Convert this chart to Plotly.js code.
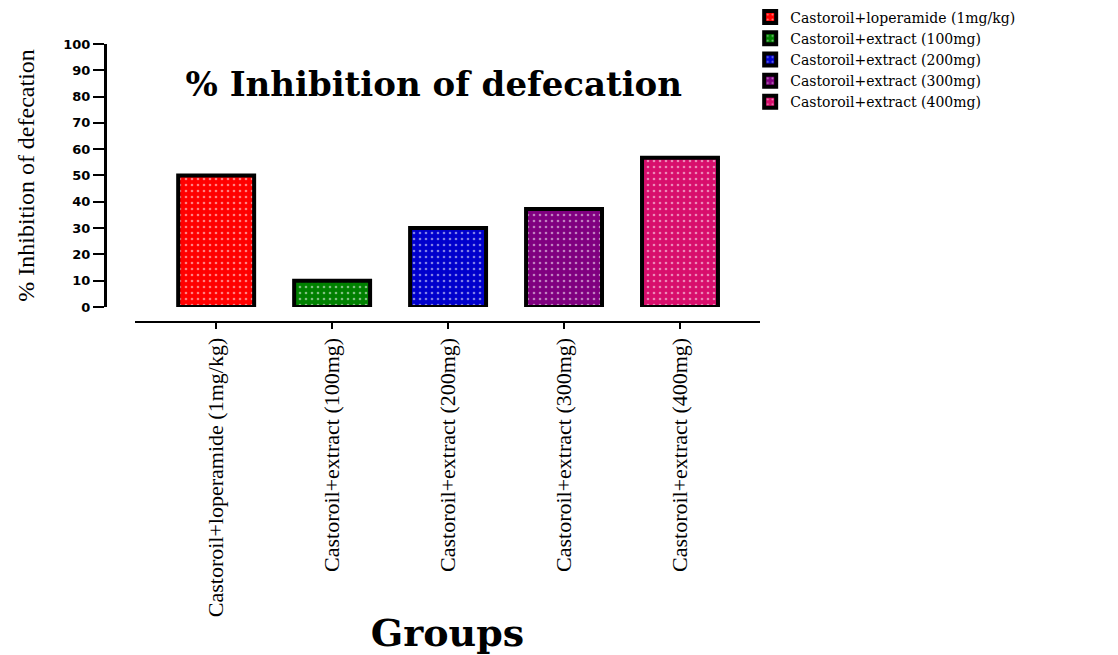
<!DOCTYPE html>
<html>
<head>
<meta charset="utf-8">
<script src="https://cdn.plot.ly/plotly-3.0.1.min.js"></script>
<style>html,body{margin:0;padding:0;background:#fff;}#chart{width:1118px;height:655px;}</style>
</head>
<body>
<div id="chart"></div>
<script>
const groups = [
  "Castoroil+loperamide (1mg/kg)",
  "Castoroil+extract (100mg)",
  "Castoroil+extract (200mg)",
  "Castoroil+extract (300mg)",
  "Castoroil+extract (400mg)"
];
const inhibition = [50.0, 10.0, 30.0, 37.3, 56.7];
const barColors = ["#ff0000", "#008000", "#0000cc", "#800080", "#d80e6c"];
const yTicks = [0, 10, 20, 30, 40, 50, 60, 70, 80, 90, 100];

const traces = groups.map((g, i) => ({
  type: "bar",
  name: g,
  x: [g],
  y: [inhibition[i]],
  marker: {
    color: barColors[i],
    line: {color: "#000000", width: 4},
    pattern: {shape: ".", fgcolor: "#ffffff", bgcolor: barColors[i], size: 6, solidity: 0.15, fillmode: "overlay"}
  },
  hoverinfo: "x+y"
}));

const layout = {
  width: 1118,
  height: 655,
  paper_bgcolor: "#ffffff",
  plot_bgcolor: "#ffffff",
  margin: {l: 105, r: 358, t: 44, b: 333, pad: 0, autoexpand: false},
  barmode: "overlay",
  bargap: 0.345,
  showlegend: true,
  title: {
    text: "% Inhibition of defecation",
    font: {family: "DejaVu Serif", size: 34, color: "#000", weight: "bold"},
    xref: "container", x: 0.388, xanchor: "center",
    yref: "container", y: 0.872, yanchor: "middle"
  },
  legend: {
    x: 0.985, xanchor: "left",
    y: 1.153, yanchor: "top",
    font: {family: "DejaVu Serif", size: 14, color: "#000"},
    bgcolor: "rgba(0,0,0,0)",
    tracegroupgap: 0,
    itemwidth: 30
  },
  xaxis: {
    type: "category",
    categoryorder: "array",
    categoryarray: groups,
    domain: [0.0458, 1],
    anchor: "free",
    position: 0,
    range: [-0.7, 4.69],
    showline: true, linecolor: "#000", linewidth: 2,
    ticks: "outside", ticklen: 6, tickwidth: 2, tickcolor: "#000",
    tickangle: -90,
    tickfont: {family: "Liberation Serif", size: 22, color: "#000"},
    showgrid: false, zeroline: false,
    automargin: false,
    title: {text: "Groups", font: {family: "DejaVu Serif", size: 38, color: "#000", weight: "bold"}, standoff: 5}
  },
  yaxis: {
    domain: [0.054, 1],
    anchor: "free",
    position: 0,
    range: [0, 100],
    tickvals: yTicks,
    ticktext: yTicks.map(String),
    showline: true, linecolor: "#000", linewidth: 3,
    ticks: "outside", ticklen: 11, tickwidth: 2, tickcolor: "#000",
    tickfont: {family: "DejaVu Sans", size: 13, color: "#000", weight: "bold"},
    showgrid: false, zeroline: false,
    automargin: false,
    title: {text: "% Inhibition of defecation", font: {family: "Liberation Serif", size: 24, color: "#000"}, standoff: 20}
  }
};

Plotly.newPlot("chart", traces, layout, {displayModeBar: false, responsive: false});
</script>
</body>
</html>
